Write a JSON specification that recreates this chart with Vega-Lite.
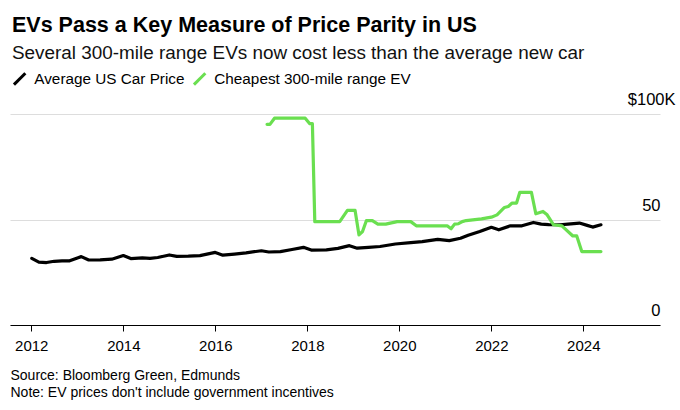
{
  "$schema": "https://vega.github.io/schema/vega-lite/v6.json",
  "width": 650,
  "height": 211,
  "padding": {"left": 10, "top": 15, "right": 2, "bottom": 5},
  "title": {
    "text": "EVs Pass a Key Measure of Price Parity in US",
    "subtitle": "Several 300-mile range EVs now cost less than the average new car",
    "anchor": "start",
    "frame": "group",
    "dx": 2,
    "fontSize": 21.5,
    "fontWeight": "bold",
    "color": "#000000",
    "subtitleFontSize": 18.9,
    "subtitleColor": "#111111",
    "subtitlePadding": 7.5,
    "offset": 8
  },
  "data": {
    "values": [
      {"date": "2012-01-05", "price": 31.6, "series": "Average US Car Price"},
      {"date": "2012-03-01", "price": 29.8, "series": "Average US Car Price"},
      {"date": "2012-05-01", "price": 29.6, "series": "Average US Car Price"},
      {"date": "2012-07-01", "price": 30.2, "series": "Average US Car Price"},
      {"date": "2012-09-01", "price": 30.4, "series": "Average US Car Price"},
      {"date": "2012-11-01", "price": 30.4, "series": "Average US Car Price"},
      {"date": "2013-01-01", "price": 31.8, "series": "Average US Car Price"},
      {"date": "2013-02-01", "price": 32.4, "series": "Average US Car Price"},
      {"date": "2013-04-01", "price": 30.8, "series": "Average US Car Price"},
      {"date": "2013-07-01", "price": 30.9, "series": "Average US Car Price"},
      {"date": "2013-10-01", "price": 31.2, "series": "Average US Car Price"},
      {"date": "2014-01-01", "price": 32.9, "series": "Average US Car Price"},
      {"date": "2014-03-01", "price": 31.5, "series": "Average US Car Price"},
      {"date": "2014-06-01", "price": 31.8, "series": "Average US Car Price"},
      {"date": "2014-08-01", "price": 31.6, "series": "Average US Car Price"},
      {"date": "2014-10-01", "price": 32.0, "series": "Average US Car Price"},
      {"date": "2015-01-01", "price": 33.2, "series": "Average US Car Price"},
      {"date": "2015-03-01", "price": 32.5, "series": "Average US Car Price"},
      {"date": "2015-06-01", "price": 32.6, "series": "Average US Car Price"},
      {"date": "2015-09-01", "price": 32.9, "series": "Average US Car Price"},
      {"date": "2016-01-01", "price": 34.4, "series": "Average US Car Price"},
      {"date": "2016-03-01", "price": 33.1, "series": "Average US Car Price"},
      {"date": "2016-06-01", "price": 33.6, "series": "Average US Car Price"},
      {"date": "2016-09-01", "price": 34.2, "series": "Average US Car Price"},
      {"date": "2017-01-01", "price": 35.2, "series": "Average US Car Price"},
      {"date": "2017-03-01", "price": 34.6, "series": "Average US Car Price"},
      {"date": "2017-06-01", "price": 34.8, "series": "Average US Car Price"},
      {"date": "2017-09-01", "price": 35.8, "series": "Average US Car Price"},
      {"date": "2017-12-01", "price": 36.8, "series": "Average US Car Price"},
      {"date": "2018-02-01", "price": 35.5, "series": "Average US Car Price"},
      {"date": "2018-06-01", "price": 35.6, "series": "Average US Car Price"},
      {"date": "2018-09-01", "price": 36.3, "series": "Average US Car Price"},
      {"date": "2018-12-01", "price": 37.6, "series": "Average US Car Price"},
      {"date": "2019-02-01", "price": 36.4, "series": "Average US Car Price"},
      {"date": "2019-05-01", "price": 36.8, "series": "Average US Car Price"},
      {"date": "2019-08-01", "price": 37.2, "series": "Average US Car Price"},
      {"date": "2019-12-01", "price": 38.4, "series": "Average US Car Price"},
      {"date": "2020-04-01", "price": 39.0, "series": "Average US Car Price"},
      {"date": "2020-07-01", "price": 39.5, "series": "Average US Car Price"},
      {"date": "2020-11-01", "price": 40.6, "series": "Average US Car Price"},
      {"date": "2021-02-01", "price": 40.0, "series": "Average US Car Price"},
      {"date": "2021-05-01", "price": 41.1, "series": "Average US Car Price"},
      {"date": "2021-07-01", "price": 42.5, "series": "Average US Car Price"},
      {"date": "2021-10-01", "price": 44.3, "series": "Average US Car Price"},
      {"date": "2022-01-01", "price": 46.3, "series": "Average US Car Price"},
      {"date": "2022-03-01", "price": 45.1, "series": "Average US Car Price"},
      {"date": "2022-06-01", "price": 47.0, "series": "Average US Car Price"},
      {"date": "2022-09-01", "price": 47.0, "series": "Average US Car Price"},
      {"date": "2022-12-01", "price": 48.6, "series": "Average US Car Price"},
      {"date": "2023-02-01", "price": 47.8, "series": "Average US Car Price"},
      {"date": "2023-04-01", "price": 47.6, "series": "Average US Car Price"},
      {"date": "2023-07-01", "price": 47.5, "series": "Average US Car Price"},
      {"date": "2023-09-01", "price": 47.8, "series": "Average US Car Price"},
      {"date": "2023-12-01", "price": 48.3, "series": "Average US Car Price"},
      {"date": "2024-02-01", "price": 47.2, "series": "Average US Car Price"},
      {"date": "2024-03-15", "price": 46.4, "series": "Average US Car Price"},
      {"date": "2024-05-20", "price": 47.5, "series": "Average US Car Price"},
      {"date": "2017-02-15", "price": 95.1, "series": "Cheapest 300-mile range EV"},
      {"date": "2017-03-10", "price": 95.1, "series": "Cheapest 300-mile range EV"},
      {"date": "2017-04-15", "price": 98.0, "series": "Cheapest 300-mile range EV"},
      {"date": "2017-12-15", "price": 98.0, "series": "Cheapest 300-mile range EV"},
      {"date": "2018-01-20", "price": 95.4, "series": "Cheapest 300-mile range EV"},
      {"date": "2018-02-10", "price": 95.4, "series": "Cheapest 300-mile range EV"},
      {"date": "2018-03-01", "price": 49.0, "series": "Cheapest 300-mile range EV"},
      {"date": "2018-09-15", "price": 49.0, "series": "Cheapest 300-mile range EV"},
      {"date": "2018-11-15", "price": 54.3, "series": "Cheapest 300-mile range EV"},
      {"date": "2019-01-15", "price": 54.3, "series": "Cheapest 300-mile range EV"},
      {"date": "2019-02-15", "price": 42.7, "series": "Cheapest 300-mile range EV"},
      {"date": "2019-03-15", "price": 44.3, "series": "Cheapest 300-mile range EV"},
      {"date": "2019-04-15", "price": 49.5, "series": "Cheapest 300-mile range EV"},
      {"date": "2019-06-01", "price": 49.5, "series": "Cheapest 300-mile range EV"},
      {"date": "2019-07-15", "price": 47.8, "series": "Cheapest 300-mile range EV"},
      {"date": "2019-09-15", "price": 47.8, "series": "Cheapest 300-mile range EV"},
      {"date": "2019-12-15", "price": 49.0, "series": "Cheapest 300-mile range EV"},
      {"date": "2020-04-01", "price": 49.0, "series": "Cheapest 300-mile range EV"},
      {"date": "2020-05-15", "price": 47.0, "series": "Cheapest 300-mile range EV"},
      {"date": "2021-01-15", "price": 47.0, "series": "Cheapest 300-mile range EV"},
      {"date": "2021-02-15", "price": 45.6, "series": "Cheapest 300-mile range EV"},
      {"date": "2021-03-15", "price": 47.8, "series": "Cheapest 300-mile range EV"},
      {"date": "2021-04-15", "price": 48.0, "series": "Cheapest 300-mile range EV"},
      {"date": "2021-05-15", "price": 49.0, "series": "Cheapest 300-mile range EV"},
      {"date": "2021-06-15", "price": 49.5, "series": "Cheapest 300-mile range EV"},
      {"date": "2021-10-15", "price": 50.3, "series": "Cheapest 300-mile range EV"},
      {"date": "2022-01-01", "price": 51.1, "series": "Cheapest 300-mile range EV"},
      {"date": "2022-02-15", "price": 52.2, "series": "Cheapest 300-mile range EV"},
      {"date": "2022-04-15", "price": 55.7, "series": "Cheapest 300-mile range EV"},
      {"date": "2022-05-15", "price": 56.2, "series": "Cheapest 300-mile range EV"},
      {"date": "2022-06-15", "price": 57.8, "series": "Cheapest 300-mile range EV"},
      {"date": "2022-07-20", "price": 57.8, "series": "Cheapest 300-mile range EV"},
      {"date": "2022-08-15", "price": 62.9, "series": "Cheapest 300-mile range EV"},
      {"date": "2022-11-15", "price": 62.9, "series": "Cheapest 300-mile range EV"},
      {"date": "2022-12-20", "price": 52.7, "series": "Cheapest 300-mile range EV"},
      {"date": "2023-02-15", "price": 53.8, "series": "Cheapest 300-mile range EV"},
      {"date": "2023-03-20", "price": 52.2, "series": "Cheapest 300-mile range EV"},
      {"date": "2023-05-10", "price": 47.5, "series": "Cheapest 300-mile range EV"},
      {"date": "2023-07-15", "price": 47.0, "series": "Cheapest 300-mile range EV"},
      {"date": "2023-10-10", "price": 42.2, "series": "Cheapest 300-mile range EV"},
      {"date": "2023-11-10", "price": 42.2, "series": "Cheapest 300-mile range EV"},
      {"date": "2023-12-20", "price": 34.8, "series": "Cheapest 300-mile range EV"},
      {"date": "2024-05-20", "price": 34.8, "series": "Cheapest 300-mile range EV"}
    ]
  },
  "mark": {"type": "line", "strokeWidth": 3.2, "strokeJoin": "round", "strokeCap": "round"},
  "encoding": {
    "x": {
      "field": "date",
      "type": "temporal",
      "scale": {"domain": ["2011-07-16", "2025-09-01"]},
      "axis": {
        "values": [
          {"year": 2012}, {"year": 2014}, {"year": 2016}, {"year": 2018},
          {"year": 2020}, {"year": 2022}, {"year": 2024}
        ],
        "format": "%Y",
        "grid": false,
        "domainColor": "#000000",
        "domainWidth": 1.2,
        "tickColor": "#000000",
        "tickSize": 6,
        "labelFontSize": 15,
        "labelColor": "#000000",
        "labelPadding": 7,
        "title": ["Source: Bloomberg Green, Edmunds", "Note: EV prices don't include government incentives"],
        "titleAnchor": "start",
        "titleAlign": "left",
        "titleX": 0,
        "titleBaseline": "top",
        "titleFontSize": 14,
        "titleFontWeight": "normal",
        "titleColor": "#000000",
        "titleLineHeight": 16.7,
        "titlePadding": 15.5
      }
    },
    "y": {
      "field": "price",
      "type": "quantitative",
      "scale": {"domain": [0, 100]},
      "axis": {
        "orient": "right",
        "values": [0, 50, 100],
        "labelExpr": "datum.value == 100 ? '$100K' : datum.label",
        "domain": false,
        "ticks": false,
        "grid": true,
        "gridColor": "#dddddd",
        "gridWidth": 1,
        "labelAlign": "right",
        "labelBaseline": "alphabetic",
        "labelOffset": -9.5,
        "labelPadding": {"condition": {"test": "datum.value == 100", "value": 15}, "value": 0},
        "labelFontSize": 16.5,
        "labelColor": "#000000",
        "title": null
      }
    },
    "color": {
      "field": "series",
      "type": "nominal",
      "scale": {
        "domain": ["Average US Car Price", "Cheapest 300-mile range EV"],
        "range": ["#000000", "#6adf50"]
      },
      "legend": {
        "title": null,
        "orient": "none",
        "direction": "horizontal",
        "legendX": 2,
        "legendY": -43,
        "symbolType": "M-1,1L1,-1",
        "symbolSize": 130,
        "symbolStrokeWidth": 3,
        "labelFontSize": 15.3,
        "labelLimit": 400,
        "labelColor": "#000000",
        "labelOffset": 7,
        "columnPadding": 2
      }
    }
  },
  "config": {
    "font": "Liberation Sans",
    "view": {"stroke": null}
  }
}
